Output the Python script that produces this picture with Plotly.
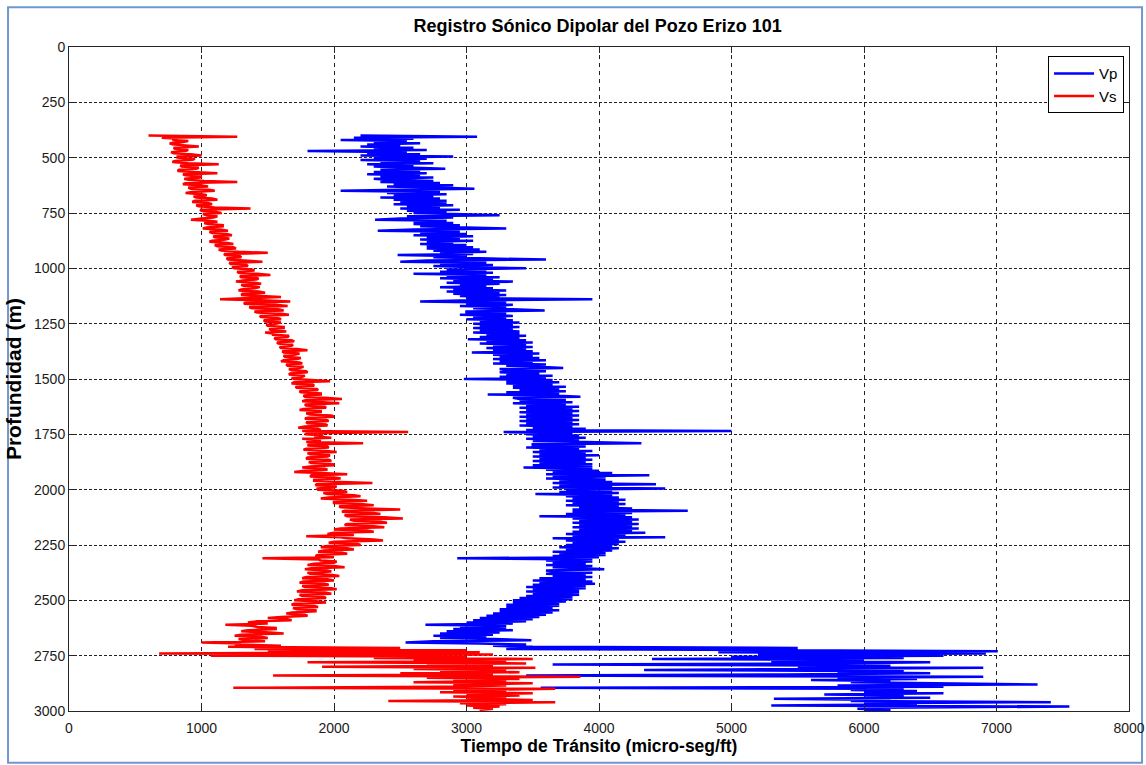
import sys
import plotly.graph_objects as go

# Depth samples (m), every 5 m from 400 to 3000
profundidad = list(range(400, 3001, 5))

# Vp transit time (micro-seg/ft), rows of 100 m (20 samples each)
vp = [
    2200, 3080, 2150, 2600, 2050, 2550, 2300, 2650, 2250, 2500, 2200, 2600, 2300, 2700, 1800, 2550, 2250, 2650, 2200, 2900,  # 400
    2300, 2700, 2200, 2650, 2350, 2750, 2250, 2600, 2300, 2700, 2840, 2350, 2650, 2300, 2700, 2250, 2650, 2350, 2750, 2300,  # 500
    2400, 2750, 2350, 2800, 2450, 2900, 2400, 2750, 3060, 2500, 2050, 2800, 2400, 2850, 2450, 2750, 2350, 2800, 2450, 2850,  # 600
    2500, 2850, 2450, 2900, 2550, 2800, 2500, 2950, 2550, 2850, 2600, 2900, 3250, 2550, 2900, 2500, 2310, 2850, 2600, 2900,  # 700
    2600, 2950, 2650, 3000, 3300, 2600, 2330, 2950, 2650, 3000, 2600, 3050, 2700, 2950, 2650, 3050, 2700, 2900, 2650, 3000,  # 800
    2700, 3050, 2700, 3100, 2750, 3150, 2800, 3050, 2480, 3000, 2750, 3100, 3600, 2700, 2500, 3150, 2800, 3200, 2750, 3100,  # 900
    3450, 2850, 3150, 2800, 3200, 2600, 3150, 2850, 3250, 2800, 3200, 2900, 3350, 2850, 3250, 2950, 3150, 2800, 3200, 2900,  # 1000
    3300, 2850, 3250, 2900, 3300, 2950, 3250, 3000, 3950, 2950, 2650, 3300, 3000, 3350, 2950, 3300, 3050, 3350, 3590, 3000,  # 1100
    3000, 3300, 2950, 3350, 3050, 3300, 3000, 3350, 3100, 3400, 3050, 3350, 3100, 3400, 3050, 3350, 3100, 3400, 3050, 3400,  # 1200
    3150, 3450, 3100, 3400, 3010, 3450, 3150, 3500, 3100, 3450, 3200, 3500, 3150, 3450, 3200, 3500, 3040, 3550, 3200, 3500,  # 1300
    3250, 3550, 3200, 3600, 3250, 3500, 3200, 3600, 3300, 3550, 3730, 3250, 3300, 3600, 3250, 3550, 3300, 3650, 3250, 3600,  # 1400
    2980, 3650, 3300, 3700, 3300, 3650, 3350, 3750, 3350, 3700, 3400, 3750, 3300, 3700, 3160, 3650, 3860, 3350, 3400, 3750,  # 1500
    3400, 3800, 3350, 3750, 3450, 3850, 3400, 3800, 3450, 3850, 3400, 3800, 3450, 3850, 3400, 3800, 3450, 3850, 3400, 3800,  # 1600
    3450, 3850, 3400, 3800, 3500, 3900, 3450, 5000, 3280, 3800, 3450, 3850, 3500, 3900, 3450, 3850, 3500, 3900, 4320, 3500,  # 1700
    3500, 3900, 3450, 3850, 3550, 3950, 3500, 3900, 3550, 4000, 3500, 3900, 3550, 3950, 3500, 3900, 3550, 3950, 3500, 3950,  # 1800
    3430, 3950, 3600, 4000, 3650, 4100, 3600, 4380, 3650, 4050, 3600, 4050, 3700, 4100, 3650, 4430, 3700, 4100, 3650, 4500,  # 1900
    3750, 4100, 3700, 4150, 3520, 4100, 3750, 4150, 3800, 4200, 3750, 4150, 3800, 4200, 3750, 4150, 3850, 4250, 3800, 4670,  # 2000
    3800, 4250, 3750, 4200, 3550, 4250, 3800, 4300, 3850, 4250, 3800, 4300, 3850, 4250, 3800, 4300, 3850, 4250, 3800, 4350,  # 2100
    3750, 4200, 3800, 4500, 3650, 4150, 3750, 4200, 3800, 4150, 3750, 4100, 3700, 4150, 3750, 4100, 3650, 4050, 3700, 4050,  # 2200
    3650, 4000, 2930, 3950, 3600, 3950, 3650, 3900, 3600, 3950, 3650, 3900, 4040, 3600, 3650, 3950, 3600, 3900, 3650, 3950,  # 2300
    3550, 3900, 3500, 3950, 3550, 3970, 3500, 3900, 3450, 3900, 3500, 3850, 3450, 3850, 3500, 3850, 3450, 3800, 3400, 3800,  # 2400
    3350, 3750, 3350, 3700, 3300, 3700, 3300, 3650, 3250, 3700, 3250, 3650, 3200, 3600, 3150, 3550, 3100, 3500, 3050, 3450,  # 2500
    3000, 3350, 2690, 3300, 2950, 3300, 2900, 3350, 2850, 3250, 2800, 3200, 2750, 3150, 2800, 3200, 3490, 2750, 2540, 3100,  # 2600
    3450, 3200, 3500, 5500, 3300, 5400, 7010, 4900, 6920, 5200, 6600, 5000, 6300, 4400, 6000, 5300, 6500, 5700, 3650, 6200,  # 2700
    5500, 6900, 5600, 4340, 6300, 5800, 6500, 5400, 3450, 6900, 5800, 6400, 5600, 6200, 5900, 6500, 7310, 5800, 6600, 3560,  # 2800
    6300, 5900, 6400, 6000, 6600, 5700, 6300, 6000, 6500, 5320, 6200, 5900, 7410, 6000, 6400, 5300, 7550, 6100, 5950, 6200,  # 2900
    6000,                                                                                                                    # 3000
]

# Vs transit time (micro-seg/ft), rows of 100 m (20 samples each)
vs = [
    600, 1270, 700, 820, 780, 900, 850, 760, 780, 860, 980, 790, 800, 900, 880, 770, 790, 920, 1000, 820,               # 400
    820, 950, 930, 800, 780, 900, 1130, 840, 850, 980, 960, 830, 820, 940, 1120, 860, 880, 1000, 990, 870,              # 500
    900, 1020, 1270, 880, 860, 990, 1050, 900, 920, 1060, 1100, 930, 880, 1000, 1040, 940, 960, 1080, 1120, 950,        # 600
    930, 1050, 1080, 960, 980, 1100, 1370, 990, 1000, 1110, 1150, 1010, 1040, 1120, 1090, 1000, 920, 1050, 1120, 1020,  # 700
    1050, 1160, 1160, 1040, 1010, 1140, 1200, 1060, 1080, 1190, 1230, 1090, 1100, 1210, 1180, 1080, 1060, 1200, 1240, 1100,  # 800
    1120, 1240, 1260, 1130, 1150, 1280, 1500, 1170, 1180, 1290, 1300, 1190, 1200, 1320, 1460, 1210, 1220, 1340, 1350, 1230,  # 900
    1250, 1380, 1400, 1270, 1280, 1420, 1520, 1290, 1300, 1430, 1420, 1310, 1260, 1400, 1450, 1300, 1320, 1440, 1400, 1300,  # 1000
    1280, 1430, 1480, 1310, 1300, 1450, 1600, 1320, 1140, 1500, 1670, 1330, 1320, 1560, 1650, 1360, 1380, 1580, 1620, 1400,  # 1100
    1420, 1600, 1660, 1440, 1450, 1580, 1600, 1470, 1480, 1600, 1560, 1490, 1500, 1620, 1620, 1510, 1530, 1640, 1480, 1540,  # 1200
    1540, 1660, 1650, 1550, 1560, 1680, 1700, 1570, 1580, 1690, 1680, 1590, 1600, 1720, 1800, 1610, 1620, 1740, 1700, 1620,  # 1300
    1630, 1750, 1720, 1620, 1600, 1740, 1760, 1640, 1650, 1770, 1740, 1660, 1680, 1790, 1800, 1670, 1660, 1780, 1760, 1680,  # 1400
    1700, 1830, 1970, 1700, 1680, 1840, 1850, 1710, 1720, 1870, 1880, 1740, 1750, 1900, 1900, 1770, 1780, 1930, 2060, 1790,  # 1500
    1760, 1920, 2040, 1780, 1790, 1930, 1940, 1770, 1740, 1900, 1900, 1790, 1820, 1980, 2000, 1800, 1780, 1940, 1960, 1790,  # 1600
    1800, 1940, 1950, 1780, 1730, 1880, 1900, 1760, 2560, 1800, 1780, 1920, 1850, 1980, 1760, 1880, 1900, 1790, 2220, 1820,  # 1700
    1800, 1950, 1960, 1790, 1770, 1940, 2020, 1800, 1820, 1970, 1950, 1800, 1790, 1960, 1980, 1810, 1830, 1990, 2000, 1820,  # 1800
    1760, 1930, 1950, 1780, 1700, 1900, 2100, 1830, 1820, 2000, 2050, 1850, 1850, 2050, 2290, 1870, 1860, 2020, 2000, 1870,  # 1900
    1880, 2060, 2100, 1920, 1950, 2150, 2200, 1960, 1900, 2120, 2250, 2000, 2000, 2200, 2300, 2040, 2050, 2250, 2500, 2080,  # 2000
    2060, 2300, 2350, 2080, 2100, 2380, 2520, 2120, 2150, 2350, 2400, 2100, 2080, 2300, 2380, 2050, 2000, 2250, 2300, 2000,  # 2100
    1950, 2150, 1790, 2050, 2100, 2300, 2370, 2000, 1960, 2180, 2200, 1950, 1900, 2100, 2150, 1920, 1880, 2060, 2100, 1880,  # 2200
    1860, 2000, 1460, 1880, 1900, 2020, 2000, 1850, 1800, 2000, 2080, 1830, 1780, 1950, 1980, 1800, 1820, 1990, 2040, 1790,  # 2300
    1760, 1950, 2000, 1770, 1740, 1930, 1960, 1760, 1780, 1980, 2020, 1760, 1720, 1930, 1980, 1740, 1760, 1920, 1940, 1730,  # 2400
    1700, 1880, 1940, 1700, 1680, 1850, 1880, 1690, 1720, 1860, 1860, 1680, 1640, 1780, 1800, 1600, 1500, 1650, 1680, 1420,  # 2500
    1350, 1500, 1180, 1380, 1420, 1560, 1560, 1350, 1300, 1520, 1620, 1300, 1250, 1450, 1500, 1280, 1330, 1480, 1000, 1300,  # 2600
    1250, 1600, 1200, 2500, 1400, 3000, 1500, 3100, 680, 3200, 1070, 3000, 2300, 3500, 2600, 3300, 1800, 3450, 2700, 3200,  # 2700
    1910, 3520, 2600, 3300, 2800, 3400, 2500, 3200, 1540, 3860, 2700, 3400, 2900, 3300, 2600, 3500, 2900, 3300, 2800, 1240,  # 2800
    3670, 2900, 3300, 2800, 3500, 3000, 3400, 2900, 3300, 3000, 3500, 2410, 3670, 2950, 3300, 3000, 3250, 3050, 3200, 3100,  # 2900
    3150,                                                                                                                    # 3000
]

if len(vp) != len(profundidad) or len(vs) != len(profundidad):
    print("length mismatch", len(profundidad), len(vp), len(vs), file=sys.stderr)

x_ticks = [0, 1000, 2000, 3000, 4000, 5000, 6000, 7000, 8000]
y_ticks = [0, 250, 500, 750, 1000, 1250, 1500, 1750, 2000, 2250, 2500, 2750, 3000]

FONT = "Liberation Sans, Arial, sans-serif"

fig = go.Figure()
fig.add_trace(go.Scatter(x=vp, y=profundidad, mode="lines", name="Vp",
                         line=dict(color="#0000ff", width=2.5)))
fig.add_trace(go.Scatter(x=vs, y=profundidad, mode="lines", name="Vs",
                         line=dict(color="#ff0000", width=2.5)))

fig.update_layout(
    width=1146, height=765,
    margin=dict(l=69, r=17, t=47, b=54),
    paper_bgcolor="white", plot_bgcolor="white",
    font=dict(family=FONT, size=14, color="#1a1a1a"),
    title=dict(text="<b>Registro Sónico Dipolar del Pozo Erizo 101</b>",
               x=0.5215, xanchor="center", y=0.967, yanchor="middle",
               font=dict(family=FONT, size=18, color="black")),
    showlegend=True,
    legend=dict(x=0.9953, xanchor="right", y=0.986, yanchor="top",
                bgcolor="white", bordercolor="black", borderwidth=1,
                font=dict(family=FONT, size=15, color="black"),
                tracegroupgap=0, itemwidth=40),
    shapes=[dict(type="rect", xref="paper", yref="paper",
                 x0=-0.0575, x1=1.0123, y0=-0.078, y1=1.06,
                 line=dict(color="#6f97d0", width=2), fillcolor="rgba(0,0,0,0)",
                 layer="below")],
)

fig.update_xaxes(
    range=[0, 8000], tickvals=x_ticks, ticktext=[str(v) for v in x_ticks],
    automargin=False, ticklabelstandoff=4,
    showgrid=True, gridcolor="#222222", griddash="4px,4px", gridwidth=1,
    zeroline=False, showline=True, linecolor="#262626", linewidth=1, mirror="ticks",
    ticks="inside", ticklen=6, tickcolor="#262626",
    title=dict(text="<b>Tiempo de Tránsito (micro-seg/ft)</b>", standoff=2,
               font=dict(family=FONT, size=17.5, color="black")),
)
fig.update_yaxes(
    range=[3000, 0], tickvals=y_ticks, ticktext=[str(v) for v in y_ticks],
    automargin=False,
    showgrid=True, gridcolor="#222222", griddash="3px,2px", gridwidth=1,
    zeroline=False, showline=True, linecolor="#262626", linewidth=1, mirror="ticks",
    ticks="inside", ticklen=6, tickcolor="#262626",
    title=dict(text="<b>Profundidad (m)</b>", standoff=6,
               font=dict(family=FONT, size=21, color="black")),
)

fig.write_html("out.html")
